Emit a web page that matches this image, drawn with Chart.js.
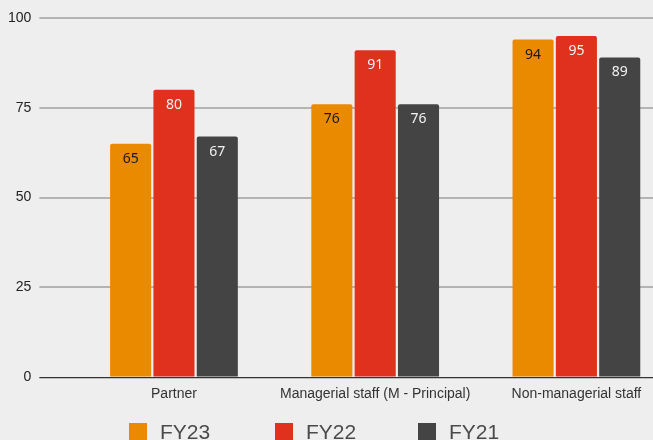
<!DOCTYPE html>
<html>
<head>
<meta charset="utf-8">
<script src="https://cdn.jsdelivr.net/npm/chart.js@4"></script>
<style>
    html, body { margin: 0; padding: 0; background: #eeeeee; overflow: hidden; }
    #wrap { position: relative; width: 690px; height: 440px; }
    #legend { position: absolute; left: 0; top: 423px; font: 21px "Liberation Sans", Arial, sans-serif; color: #4a4a4a; }
    #legend span.item { position: absolute; white-space: nowrap; line-height: 18px; }
    #legend span.box { display: inline-block; width: 18px; height: 18px; vertical-align: top; margin-right: 13px; }
</style>
</head>
<body>
<div id="wrap">
    <canvas id="chart" width="690" height="440"></canvas>
    <div id="legend"></div>
</div>
<script>
const categories = ['Partner', 'Managerial staff (M - Principal)', 'Non-managerial staff'];
const seriesNames = ['FY23', 'FY22', 'FY21'];
const fy23 = [65, 76, 94];
const fy22 = [80, 91, 95];
const fy21 = [67, 76, 89];
const yTicks = [0, 25, 50, 75, 100];

const colors = ['#ea8a00', '#e0301e', '#444444'];
const labelColors = ['#1a1a1a', '#f2f2f2', '#f2f2f2'];
const legendX = [129, 275, 418];

// value labels just inside the top of each bar
const barLabels = {
    id: 'barLabels',
    afterDatasetsDraw(chart) {
        const ctx = chart.ctx;
        ctx.save();
        ctx.font = '14px "Noto Sans", "Liberation Sans", sans-serif';
        ctx.textAlign = 'center';
        ctx.textBaseline = 'middle';
        chart.data.datasets.forEach((ds, i) => {
            chart.getDatasetMeta(i).data.forEach((bar, j) => {
                ctx.fillStyle = labelColors[i];
                ctx.fillText(ds.data[j], bar.x, bar.y + 15);
            });
        });
        ctx.restore();
    }
};

const datasets = [fy23, fy22, fy21].map((values, i) => ({
    label: seriesNames[i],
    data: values,
    backgroundColor: colors[i],
    borderRadius: 2,
    categoryPercentage: 0.646,
    barPercentage: 0.948,
}));

const chart = new Chart(document.getElementById('chart'), {
    type: 'bar',
    data: { labels: categories, datasets: datasets },
    options: {
        responsive: false,
        animation: false,
        layout: { padding: { left: 0, top: 18, right: 13, bottom: 28 } },
        plugins: {
            legend: { display: false },
            tooltip: { enabled: false },
        },
        scales: {
            x: {
                grid: { display: false, drawTicks: false },
                border: { display: false },
                ticks: {
                    padding: 9,
                    color: '#333333',
                    font: { family: '"Liberation Sans", Arial, sans-serif', size: 14 },
                },
            },
            y: {
                min: 0,
                max: 100,
                afterBuildTicks: axis => { axis.ticks = yTicks.map(v => ({ value: v })); },
                border: { display: false },
                grid: {
                    color: ctx => ctx.tick && ctx.tick.value === 0 ? '#333333' : '#b4b4b4',
                    lineWidth: ctx => ctx.tick && ctx.tick.value === 0 ? 1.2 : 2,
                    tickLength: 34,
                },
                ticks: {
                    padding: 8,
                    color: '#222222',
                    font: { family: '"Liberation Sans", Arial, sans-serif', size: 14 },
                },
            },
        },
    },
    plugins: [barLabels],
});

// legend row under the axis
const legend = document.getElementById('legend');
chart.data.datasets.forEach((ds, i) => {
    const item = document.createElement('span');
    item.className = 'item';
    item.style.left = legendX[i] + 'px';
    const box = document.createElement('span');
    box.className = 'box';
    box.style.background = ds.backgroundColor;
    item.appendChild(box);
    item.appendChild(document.createTextNode(ds.label));
    legend.appendChild(item);
});
</script>
</body>
</html>
